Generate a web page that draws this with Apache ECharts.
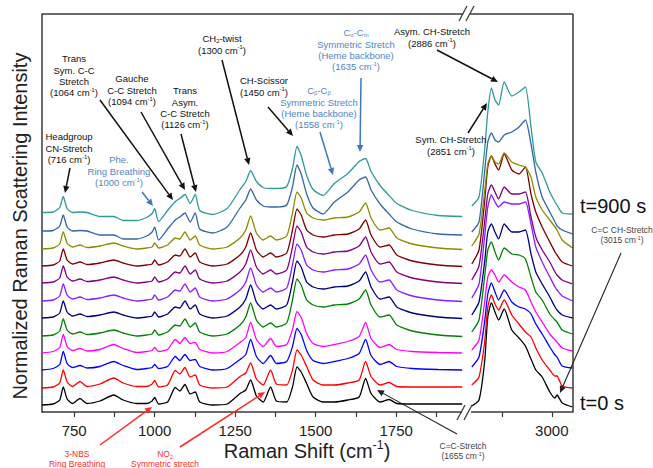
<!DOCTYPE html>
<html>
<head>
<meta charset="utf-8">
<title>Raman spectra</title>
<script src="https://cdn.jsdelivr.net/npm/echarts@6/dist/echarts.min.js"></script>
<style>
  html, body { margin: 0; padding: 0; background: #fff; }
  #chart { width: 653px; height: 468px; }
</style>
</head>
<body>
<div id="chart"></div>
<script>
// ---- data ----
// fingerprint region (cm-1)
const shiftLow = [650, 685, 705, 716, 728, 745, 768, 790, 830, 873, 902, 945, 975, 992, 1000, 1012, 1040, 1064, 1078, 1094,
  1110, 1126, 1140, 1180, 1225, 1265, 1283, 1298, 1316, 1337, 1360, 1378, 1410, 1428, 1442, 1455, 1472, 1492, 1523, 1558,
  1600, 1635, 1655, 1672, 1700, 1728, 1752, 1800, 1880, 1955];

// band shapes above each trace's baseline (early -> late)
const shapeEarly = [-1, 0, 4, 17, 5, 0.5, 5.5, 0.5, 3, 9, 4, 0.5, 0.5, 3, 6.5, 0, 2, 16.5, 13, 19.5,
  10, 12, 2, -1, 0, 10.5, 14, 24, 8, 2, 17, 3, 2, 17, 37, 32, 20.5, 7, 2, 2,
  4, 7, 25.5, 10.5, 2, 4.5, 0.5, 0, 0, 0];
const shapeMid = [-1.5, 0, 4, 17, 5, 1, 3, 0.5, 2, 7, 3, -1, 0, 1, 4, 0, 2, 12, 8, 14,
  8, 9, 2, -1.5, 0, 9, 14, 29, 12, 5, 13, 5, 7, 22, 40, 34, 18, 8, 5, 7,
  10, 15, 29, 13, 4, 7, 2, 0, -1, -1.5];
const shapeLate = [-1, 0, 4, 16, 5, 1, 3, 0.5, 2, 5, 2, -1, 0, 1, 5, 0, 3, 10, 9, 16,
  8, 12, 3, -1, 1, 10, 18, 32, 15, 8, 12, 8, 12, 35, 56, 50, 35, 30, 28, 30,
  31, 36, 45, 30, 18, 20, 10, 4, 0, -1.5];
const shapeFinal = [1, 1.5, 6, 17, 5, 1, 1.5, 1, -3, -3, -7, -7, -4, 0, 5, -8, 3, 12, 15, 19,
  10, 19, 3, -1, 5, 24, 32, 43, 32, 26, 25, 25, 27, 45, 67, 58, 38, 24, 18, 30,
  40, 52, 55, 42, 28, 18, 10, 3, -2, -3];

// CH stretching region (cm-1)
const shiftHigh = [2800, 2818, 2832, 2840, 2849, 2858, 2867, 2881, 2900, 2918, 2934, 2948, 2960, 2976, 2995, 3008, 3013, 3026, 3052];
const chBlack   = [6, 12, 50, 95, 109, 100, 92, 103, 82, 74, 66, 53, 42, 35, 20, 14, 17, 9, 5];
const chRed     = [27, 35, 70, 105, 117, 108, 102, 112, 97, 88, 80, 75, 64, 52, 42, 36, 36, 26, 24];
const chBlue    = [45, 55, 90, 118, 129, 120, 112, 122, 110, 105, 103, 98, 88, 78, 65, 57, 55, 46, 44];
const chMagenta = [62, 72, 110, 135, 142, 137, 130, 137, 130, 125, 122, 110, 100, 90, 78, 72, 70, 64, 61];
const chGreen   = [80, 92, 135, 162, 170, 160, 152, 164, 158, 157, 153, 135, 120, 112, 98, 92, 90, 82, 78];
const chNavy    = [97, 110, 150, 180, 188, 180, 173, 188, 180, 180, 182, 158, 140, 128, 115, 105, 102, 97, 94];
const chViolet  = [114, 128, 175, 205, 217, 210, 205, 210, 208, 208, 210, 188, 165, 150, 135, 125, 122, 116, 111];
const chPurple  = [132, 146, 190, 218, 227, 220, 213, 225, 218, 218, 220, 195, 175, 162, 150, 140, 137, 132, 128];
const chDarkRed = [148, 162, 210, 245, 256, 248, 242, 258, 242, 238, 245, 218, 200, 185, 170, 160, 157, 150, 146];
const chOlive   = [166, 178, 220, 248, 256, 250, 248, 259, 250, 247, 245, 235, 215, 202, 192, 185, 182, 172, 164];
const chSteel   = [180, 190, 240, 270, 279, 272, 270, 277, 280, 285, 292, 268, 240, 215, 200, 190, 186, 182, 178];
const chTeal    = [206, 215, 262, 300, 324, 312, 307, 330, 316, 320, 325, 285, 250, 239, 220, 210, 207, 199, 198];

// traces, bottom (t=0 s) to top (t=900 s)
const baselines = [8, 25, 43.5, 60.5, 77, 95, 112, 130, 147, 164, 180, 198.5];
const lowShapes = [shapeEarly, shapeEarly, shapeMid, shapeMid, shapeLate, shapeLate,
  shapeLate, shapeLate, shapeLate, shapeLate, shapeFinal, shapeFinal];
const highBands = [chBlack, chRed, chBlue, chMagenta, chGreen, chNavy,
  chViolet, chPurple, chDarkRed, chOlive, chSteel, chTeal];
const colors = ['#000000', '#ff0000', '#0000ff', '#ff00ff', '#008000', '#000080',
  '#8a1cff', '#800080', '#800000', '#8c8c00', '#3466a8', '#2f9a9a'];

const lowTicks = [750, 875, 1000, 1125, 1250, 1375, 1500, 1625, 1750, 1875];
const lowLabels = [750, 1000, 1250, 1500, 1750];
const highTicks = [2875, 3000];
const highLabels = [3000];

// ---- chart ----
const FONT = '"Liberation Sans", Arial, sans-serif';
const chart = echarts.init(document.getElementById('chart'), null, { renderer: 'svg' });

const series = [];
colors.forEach((c, k) => {
  series.push({
    type: 'line', xAxisIndex: 0, yAxisIndex: 0, showSymbol: false, smooth: 0.2, silent: true,
    lineStyle: { color: c, width: 1.3 },
    data: shiftLow.map((w, i) => [w, baselines[k] + lowShapes[k][i]])
  });
  series.push({
    type: 'line', xAxisIndex: 1, yAxisIndex: 1, showSymbol: false, smooth: 0.2, silent: true,
    lineStyle: { color: c, width: 1.3 },
    data: shiftHigh.map((w, i) => [w, highBands[k][i]])
  });
});

// rich text: ^..^ superscript, _.._ subscript
function richLine(s) {
  return s.split(/(\^[^\^]*\^|_[^_]*_)/).filter(Boolean).map(t =>
    t[0] === '^' ? '{p|' + t.slice(1, -1) + '}' :
    t[0] === '_' ? '{b|' + t.slice(1, -1) + '}' : '{n|' + t + '}').join('');
}
// one text element per line so each line keeps a tight box
function label(x, y, lines, color, size) {
  const lh = size * 1.2;
  return {
    type: 'group', z: 100, silent: true,
    children: lines.map((ln, i) => ({
      type: 'text', z: 100, silent: true,
      style: {
        x: x, y: y + i * lh, text: richLine(ln), align: 'center', verticalAlign: 'top',
        rich: {
          n: { fontSize: size, lineHeight: lh, fill: color, fontFamily: FONT, align: 'center' },
          p: { fontSize: size * 0.62, fill: color, fontFamily: FONT, align: 'center', verticalAlign: 'top' },
          b: { fontSize: size * 0.62, fill: color, fontFamily: FONT, align: 'center', verticalAlign: 'bottom' }
        }
      }
    }))
  };
}
function arrow(x1, y1, x2, y2, color, w) {
  const a = Math.atan2(y2 - y1, x2 - x1), L = 7, W = 3.2;
  const bx = x2 - L * Math.cos(a), by = y2 - L * Math.sin(a);
  return [
    { type: 'line', z: 100, silent: true, shape: { x1: x1, y1: y1, x2: bx, y2: by }, style: { stroke: color, lineWidth: w || 1.5 } },
    { type: 'polygon', z: 100, silent: true, shape: { points: [[x2, y2],
      [bx - W * Math.sin(a), by + W * Math.cos(a)], [bx + W * Math.sin(a), by - W * Math.cos(a)]] }, style: { fill: color } }
  ];
}
function seg(x1, y1, x2, y2, color, w) {
  return { type: 'line', z: 100, silent: true, shape: { x1: x1, y1: y1, x2: x2, y2: y2 }, style: { stroke: color, lineWidth: w } };
}

const BLK = '#111', BLU = '#4f86c6', BLUA = '#3b78bd', RED = '#ff2a2a', GRY = '#444';
const frame = '#3a3a3a';

const graphic = [
  // frame top / right and axis breaks
  seg(42, 14, 463, 14, frame, 1.5), seg(470, 14, 573, 14, frame, 1.5), seg(573, 14, 573, 412, frame, 1.5),
  { type: 'rect', z: 99, silent: true, shape: { x: 462, y: 409, width: 9, height: 6 }, style: { fill: '#fff' } },
  seg(459, 21, 467, 6, frame, 1.3), seg(466, 21, 474, 6, frame, 1.3),
  seg(457, 420, 465, 405, frame, 1.3), seg(464, 420, 472, 405, frame, 1.3),
  // axis titles
  { type: 'text', z: 100, silent: true, x: 20, y: 226, rotation: Math.PI / 2,
    style: { x: 0, y: 0, text: 'Normalized Raman Scattering Intensity', align: 'center', verticalAlign: 'middle',
      fontSize: 20, fontFamily: FONT, fill: '#222' } },
  label(307, 439, ['Raman Shift (cm^-1^)'], '#222', 20),
  // annotations
  label(69, 131, ['Headgroup', 'CN-Stretch', '(716 cm^-1^)'], BLK, 9.5),
  label(119, 154, ['Phe.', 'Ring Breathing', '(1000 cm^-1^)'], BLU, 9.5),
  label(74, 53, ['Trans', 'Sym. C-C', 'Stretch', '(1064 cm^-1^)'], BLK, 9.5),
  label(132, 73, ['Gauche', 'C-C Stretch', '(1094 cm^-1^)'], BLK, 9.5),
  label(185, 85, ['Trans', 'Asym.', 'C-C Stretch', '(1126 cm^-1^)'], BLK, 9.5),
  label(222, 33, ['CH_2_-twist', '(1300 cm^-1^)'], BLK, 9.5),
  label(264, 75, ['CH-Scissor', '(1450 cm^-1^)'], BLK, 9.5),
  label(319, 85, ['C_β_-C_β_', 'Symmetric Stretch', '(Heme backbone)', '(1558 cm^-1^)'], BLU, 9.5),
  label(356, 27, ['C_α_-C_m_', 'Symmetric Stretch', '(Heme backbone)', '(1635 cm^-1^)'], BLU, 9.5),
  label(432, 26, ['Asym. CH-Stretch', '(2886 cm^-1^)'], BLK, 9.5),
  label(451, 134, ['Sym. CH-Stretch', '(2851 cm^-1^)'], BLK, 9.5),
  label(622, 225, ['C=C CH-Stretch', '(3015 cm^-1^)'], GRY, 8.5),
  label(463, 441, ['C=C-Stretch', '(1655 cm^-1^)'], GRY, 8.5),
  label(77, 449, ['3-NBS', 'Ring Breathing'], RED, 8.5),
  label(165, 449, ['NO_2_', 'Symmetric stretch'], RED, 8.5),
  { type: 'text', z: 100, silent: true, style: { x: 580, y: 206, text: 't=900 s', verticalAlign: 'middle',
      fontSize: 20, fontFamily: FONT, fill: '#111' } },
  { type: 'text', z: 100, silent: true, style: { x: 580, y: 403, text: 't=0 s', verticalAlign: 'middle',
      fontSize: 20, fontFamily: FONT, fill: '#111' } }
].concat(
  arrow(70, 168, 65, 193, BLK),
  arrow(142, 192, 153, 206, BLUA),
  arrow(100, 100, 173, 200, BLK),
  arrow(141, 112, 185, 190, BLK),
  arrow(181, 134, 196, 192, BLK),
  arrow(222, 60, 249, 165, BLK),
  arrow(268, 107, 293, 136, BLK),
  arrow(320, 132, 333, 175, BLUA),
  arrow(361, 78, 360, 152, BLUA),
  arrow(437, 50, 498, 82, BLK),
  arrow(468, 133, 487, 103, BLK),
  arrow(621, 253, 560, 393, '#222', 1.1),
  arrow(457, 434, 377, 390, '#222', 1.1),
  arrow(100, 445, 152, 407, RED),
  arrow(180, 447, 265, 392, RED)
);

const xAxisCommon = {
  type: 'value',
  axisLine: { show: true, lineStyle: { color: frame, width: 1.5 } },
  axisTick: { show: true, inside: false, length: 5, lineStyle: { color: frame, width: 1.2 } },
  axisLabel: { fontSize: 15, color: '#222', fontFamily: FONT, margin: 11, formatter: v => String(v) },
  splitLine: { show: false }
};

chart.setOption({
  animation: false,
  backgroundColor: '#fff',
  grid: [
    { left: 42, top: 14, width: 425, height: 398 },
    { left: 467, top: 14, width: 106, height: 398 }
  ],
  xAxis: [
    Object.assign({}, xAxisCommon, { gridIndex: 0, min: 650, max: 1970,
      axisTick: Object.assign({}, xAxisCommon.axisTick, { customValues: lowTicks }),
      axisLabel: Object.assign({}, xAxisCommon.axisLabel, { customValues: lowLabels }) }),
    Object.assign({}, xAxisCommon, { gridIndex: 1, min: 2788, max: 3053,
      axisTick: Object.assign({}, xAxisCommon.axisTick, { customValues: highTicks }),
      axisLabel: Object.assign({}, xAxisCommon.axisLabel, { customValues: highLabels }) })
  ],
  yAxis: [
    { type: 'value', gridIndex: 0, min: 0, max: 398,
      axisLine: { show: true, lineStyle: { color: frame, width: 1.5 } },
      axisTick: { show: false }, axisLabel: { show: false }, splitLine: { show: false } },
    { type: 'value', gridIndex: 1, min: 0, max: 398, show: false, splitLine: { show: false } }
  ],
  series: series,
  graphic: graphic
});
</script>
</body>
</html>
